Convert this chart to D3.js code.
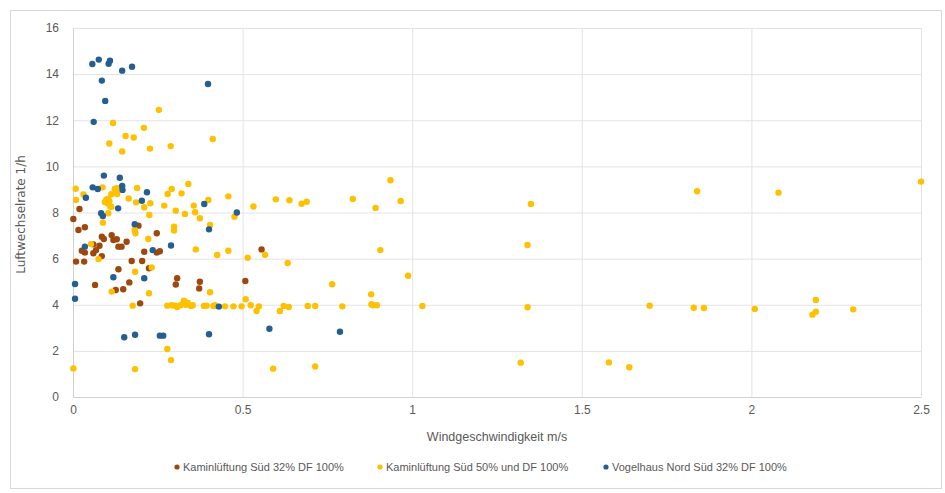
<!DOCTYPE html>
<html><head><meta charset="utf-8">
<script src="https://cdn.jsdelivr.net/npm/d3@7"></script>
<style>
body{margin:0;background:#fff;}
svg{display:block;}
text{font-family:"Liberation Sans Narrow","Liberation Sans",sans-serif;fill:#595959;}
</style></head><body>
<svg id="c" width="945" height="493"></svg>
<script>
const seriesNames = ["Kaminlüftung Süd 32% DF 100%","Kaminlüftung Süd 50% und DF 100%","Vogelhaus Nord Süd 32% DF 100%"];
const seriesColors = ["#9E480E","#FFC000","#255E91"];
const xTicks = [0,0.5,1,1.5,2,2.5];
const yTicks = [0,2,4,6,8,10,12,14,16];
const xTitle = "Windgeschwindigkeit m/s";
const yTitle = "Luftwechselrate 1/h";

const kamin32 = [[0.001,7.72],[0.019,8.15],[0.016,7.24],[0.035,7.36],[0.085,6.95],[0.091,6.85],[0.114,7.02],[0.119,6.81],[0.129,6.84],[0.134,6.52],[0.143,6.52],[0.158,6.73],[0.078,6.56],[0.068,6.37],[0.06,6.23],[0.035,6.26],[0.026,6.34],[0.033,5.87],[0.009,5.87],[0.06,6.62],[0.085,6.11],[0.193,7.43],[0.247,7.1],[0.173,5.9],[0.204,5.9],[0.21,6.3],[0.247,6.26],[0.256,6.32],[0.224,5.58],[0.134,5.54],[0.065,4.86],[0.126,4.64],[0.148,4.67],[0.166,4.97],[0.198,4.06],[0.307,5.15],[0.303,4.88],[0.374,5.0],[0.372,4.71],[0.508,5.03],[0.556,6.4]];

const kamin50 = [[0.253,12.45],[0.118,11.88],[0.209,11.67],[0.155,11.32],[0.179,11.25],[0.412,11.19],[0.107,10.99],[0.145,10.65],[0.227,10.77],[0.288,10.88],
[0.008,9.03],[0.087,9.09],[0.123,9.02],[0.13,9.05],[0.189,9.06],[0.291,9.02],[0.34,9.24],[0.279,8.8],[0.32,8.83],[0.458,8.7],[0.532,8.26],[0.031,8.78],[0.009,8.54],[0.399,8.54],[0.164,8.61],[0.186,8.44],[0.21,8.23],[0.228,8.4],[0.269,8.3],[0.303,8.08],[0.33,7.94],[0.356,8.3],[0.36,8.01],[0.374,7.75],[0.476,7.82],[0.404,7.46],[0.298,7.38],[0.298,7.22],[0.088,7.56],[0.104,7.97],[0.182,7.24],[0.184,7.1],[0.222,6.85],[0.225,7.89],[0.113,8.79],[0.13,8.8],[0.113,8.25],[0.11,8.26],
[0.094,8.46],[0.098,8.55],[0.104,8.6],[0.101,8.4],[0.107,8.5],
[0.053,6.63],[0.075,5.98],[0.362,6.4],[0.425,6.16],[0.458,6.34],[0.515,6.04],[0.566,6.17],[0.633,5.81],[0.232,5.62],[0.183,5.43],[0.114,4.57],[0.224,4.5],[0.404,4.54],[0.176,3.96],[0.764,4.89],[0.906,6.37],[0.988,5.26],[0.879,4.45],
[0.278,3.96],[0.291,3.98],[0.301,3.96],[0.307,3.9],[0.317,3.98],[0.327,4.18],[0.333,4.0],[0.338,4.09],[0.348,3.95],[0.353,3.98],[0.386,3.95],[0.394,3.96],[0.414,3.95],[0.419,3.98],[0.448,3.93],[0.473,3.93],[0.497,3.93],[0.509,4.24],[0.524,3.98],[0.541,3.73],[0.548,3.93],[0.61,3.73],[0.621,3.95],[0.636,3.9],[0.692,3.95],[0.714,3.95],[0.794,3.93],[0.88,4.02],[0.884,3.98],[0.896,3.98],[1.03,3.95],
[0.001,1.24],[0.183,1.21],[0.278,2.08],[0.289,1.6],[0.59,1.23],[0.714,1.32],
[0.598,8.57],[0.638,8.53],[0.674,8.38],[0.689,8.47],[0.825,8.59],[0.892,8.2],[0.936,9.4],[0.966,8.5],[1.35,8.37],[1.34,6.59],[1.34,3.89],[1.32,1.49],[1.58,1.5],[1.64,1.29],[1.7,3.96],[1.83,3.87],[1.86,3.86],[1.84,8.92],[2.01,3.82],[2.08,8.86],[2.19,4.21],[2.18,3.57],[2.19,3.7],[2.3,3.8],[2.5,9.34]];

const vogelhaus = [[0.057,14.44],[0.076,14.63],[0.105,14.45],[0.109,14.58],[0.145,14.15],[0.174,14.32],[0.085,13.72],[0.095,12.84],[0.061,11.93],[0.398,13.57],
[0.091,9.6],[0.138,9.51],[0.058,9.09],[0.073,9.02],[0.145,9.15],[0.146,8.98],[0.218,8.88],[0.038,8.64],[0.203,8.51],[0.387,8.37],[0.483,8.0],[0.133,8.18],[0.083,7.97],[0.088,7.85],[0.182,7.49],[0.401,7.27],[0.035,6.52],[0.235,6.37],[0.289,6.57],[0.119,5.19],[0.21,5.15],[0.006,4.9],[0.006,4.26],[0.43,3.92],[0.151,2.59],[0.183,2.7],[0.256,2.66],[0.266,2.66],[0.401,2.72],[0.579,2.96],[0.787,2.83]];

const allSeries = [kamin32, kamin50, vogelhaus];

const svg = d3.select("#c");
svg.append("rect").attr("x",10.5).attr("y",10.5).attr("width",931).attr("height",478)
  .attr("fill","#fff").attr("stroke","#d6d6e4");

const x = d3.scaleLinear().domain([0,2.5]).range([73,921]);
const y = d3.scaleLinear().domain([0,16]).range([397,28]);

// gridlines
svg.append("g").selectAll("line").data(yTicks).join("line")
  .attr("x1",x(0)).attr("x2",x(2.5)).attr("y1",d=>y(d)+0.5).attr("y2",d=>y(d)+0.5)
  .attr("stroke","#e3e3e3").attr("stroke-width",1);
svg.append("g").selectAll("line").data(xTicks).join("line")
  .attr("y1",y(0)).attr("y2",y(16)).attr("x1",d=>x(d)+0.5).attr("x2",d=>x(d)+0.5)
  .attr("stroke","#e3e3e3").attr("stroke-width",1);

// axes
const xAxis = d3.axisBottom(x).tickValues(xTicks).tickSize(0).tickPadding(8).tickFormat(d=>String(d));
const gx = svg.append("g").attr("transform",`translate(0,${y(0)})`).call(xAxis);
gx.select(".domain").attr("stroke","#d0d0d0");
gx.selectAll("text").attr("font-size",12).attr("fill","#595959").style("font-family",'"Liberation Sans Narrow","Liberation Sans",sans-serif');

const yAxis = d3.axisLeft(y).tickValues(yTicks).tickSize(0).tickPadding(14).tickFormat(d=>String(d));
const gy = svg.append("g").attr("transform",`translate(${x(0)},0)`).call(yAxis);
gy.select(".domain").attr("stroke","#d0d0d0");
gy.selectAll("text").attr("font-size",12).attr("fill","#595959").style("font-family",'"Liberation Sans Narrow","Liberation Sans",sans-serif');

// titles
svg.append("text").attr("x",(x(0)+x(2.5))/2).attr("y",441).attr("text-anchor","middle")
  .attr("font-size",12.5).text(xTitle);
svg.append("text").attr("transform",`translate(25,${(y(0)+y(16))/2+2}) rotate(-90)`)
  .attr("text-anchor","middle").attr("font-size",12)
  .style("font-family",'"DejaVu Sans",sans-serif').text(yTitle);

// points: draw in order brown, yellow, blue
allSeries.forEach((data,i)=>{
  svg.append("g").selectAll("circle").data(data).join("circle")
    .attr("cx",d=>x(d[0])).attr("cy",d=>y(d[1])).attr("r",3.2)
    .attr("fill",seriesColors[i]);
});

// legend
const legX = [177,380,606];
seriesNames.forEach((n,i)=>{
  svg.append("circle").attr("cx",legX[i]).attr("cy",467).attr("r",2.6).attr("fill",seriesColors[i]);
  svg.append("text").attr("x",legX[i]+6).attr("y",471).attr("font-size",11).text(n);
});
</script></body></html>
